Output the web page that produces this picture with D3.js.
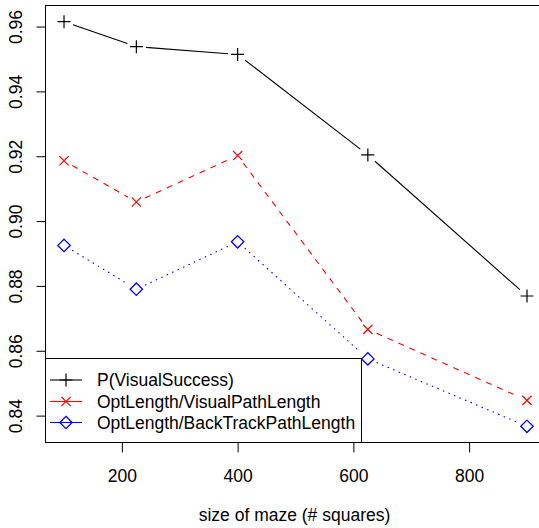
<!DOCTYPE html>
<html><head><meta charset="utf-8">
<script src="https://cdn.jsdelivr.net/npm/d3@7"></script>
<style>
html,body{margin:0;padding:0;background:#fff;overflow:hidden;}
text{font-family:"Liberation Sans",Arial,Helvetica,sans-serif;}
</style>
</head><body>
<svg id="c" width="539" height="528"></svg>
<script>
const mazeSizes = [100, 225, 400, 625, 900];
const visualSuccess = [0.9615, 0.9538, 0.9514, 0.9204, 0.8769];
const visualPathRatio = [0.9186, 0.9059, 0.9202, 0.8666, 0.8447];
const backTrackRatio = [0.8925, 0.8790, 0.8936, 0.8575, 0.8367];
const seriesNames = ["P(VisualSuccess)", "OptLength/VisualPathLength", "OptLength/BackTrackPathLength"];
const xTicks = [200, 400, 600, 800];
const yTicks = [0.84, 0.86, 0.88, 0.90, 0.92, 0.94, 0.96];
const xLabel = "size of maze (# squares)";

const series = [
  {name: seriesNames[0], values: visualSuccess, color: "#000000", dash: null, shape: "plus"},
  {name: seriesNames[1], values: visualPathRatio, color: "#ff0000", dash: "6,6", shape: "cross"},
  {name: seriesNames[2], values: backTrackRatio, color: "#0000ff", dash: "1.5,4.5", shape: "diamond"}
];

const svg = d3.select("#c");
const fs = 17.5;
const L = 45.5, T = 5.5, B = 442.5, R = 545.5;

function ext(min, max){ const r = max - min; return [min - 0.04*r, max + 0.04*r]; }
const xd = ext(d3.min(mazeSizes), d3.max(mazeSizes));
const allY = visualSuccess.concat(visualPathRatio, backTrackRatio);
const yd = ext(d3.min(allY), d3.max(allY));
const x = d3.scaleLinear().domain(xd).range([L, R]);
const y = d3.scaleLinear().domain(yd).range([B, T]);

// plot box
svg.append("rect").attr("x", L).attr("y", T).attr("width", R - L).attr("height", B - T)
  .attr("fill", "none").attr("stroke", "#000").attr("stroke-width", 1);

// x axis
const xAxis = d3.axisBottom(x).tickValues(xTicks).tickSize(10).tickPadding(0).tickFormat(d3.format("d"));
const gx = svg.append("g").attr("transform", `translate(0,${B})`).call(xAxis);
gx.select(".domain").remove();
gx.selectAll(".tick line").attr("stroke", "#000");
gx.selectAll(".tick text").attr("font-size", fs).attr("fill", "#000").attr("dy", null).attr("y", 39.5);

// y axis
const yAxis = d3.axisLeft(y).tickValues(yTicks).tickSize(9).tickFormat(d3.format(".2f"));
const gy = svg.append("g").attr("transform", `translate(${L},0)`).call(yAxis);
gy.select(".domain").remove();
gy.selectAll(".tick line").attr("stroke", "#000");
gy.selectAll(".tick text").attr("font-size", fs).attr("fill", "#000")
  .attr("x", null).attr("dy", null).attr("y", null)
  .attr("text-anchor", "middle")
  .attr("transform", "translate(-24,0) rotate(-90)");

// x label
svg.append("text").attr("x", (L + R) / 2 - 1).attr("y", 521).attr("text-anchor", "middle")
  .attr("font-size", fs).text(xLabel);

function drawShape(g, shape, cx, cy, color){
  if (shape === "plus") {
    g.append("path").attr("d", `M${cx-6.5},${cy}H${cx+6.5}M${cx},${cy-6.5}V${cy+6.5}`)
      .attr("stroke", color).attr("stroke-width", 1.2).attr("fill", "none");
  } else if (shape === "cross") {
    const s = 4.6;
    g.append("path").attr("d", `M${cx-s},${cy-s}L${cx+s},${cy+s}M${cx-s},${cy+s}L${cx+s},${cy-s}`)
      .attr("stroke", color).attr("stroke-width", 1.2).attr("fill", "none");
  } else {
    const s = 6.2;
    g.append("path").attr("d", `M${cx},${cy-s}L${cx+s},${cy}L${cx},${cy+s}L${cx-s},${cy}Z`)
      .attr("stroke", color).attr("stroke-width", 1.3).attr("fill", "none");
  }
}

const gap = 9.5;
series.forEach(s => {
  const g = svg.append("g");
  const pts = mazeSizes.map((m, i) => [x(m), y(s.values[i])]);
  for (let i = 0; i < pts.length - 1; i++) {
    const [x1, y1] = pts[i], [x2, y2] = pts[i + 1];
    const dx = x2 - x1, dy = y2 - y1, len = Math.hypot(dx, dy);
    if (len <= 2 * gap) continue;
    const ux = dx / len, uy = dy / len;
    g.append("line")
      .attr("x1", x1 + ux * gap).attr("y1", y1 + uy * gap)
      .attr("x2", x2 - ux * gap).attr("y2", y2 - uy * gap)
      .attr("stroke", s.color).attr("stroke-width", 1.1)
      .attr("stroke-dasharray", s.dash);
  }
  pts.forEach(p => drawShape(g, s.shape, p[0], p[1], s.color));
});

// legend
const lg = svg.append("g");
lg.append("rect").attr("x", L).attr("y", 358.5).attr("width", 361.5 - L).attr("height", B - 358.5)
  .attr("fill", "#fff").attr("stroke", "#000").attr("stroke-width", 1);
const rowY = [380, 401.5, 422.5];
series.forEach((s, i) => {
  lg.append("line").attr("x1", 50).attr("x2", 82).attr("y1", rowY[i]).attr("y2", rowY[i])
    .attr("stroke", s.color).attr("stroke-width", 1.1);
  drawShape(lg, s.shape, 66, rowY[i], s.color);
  lg.append("text").attr("x", 97).attr("y", rowY[i] + 6).attr("font-size", fs).text(s.name);
});
</script>
</body></html>
